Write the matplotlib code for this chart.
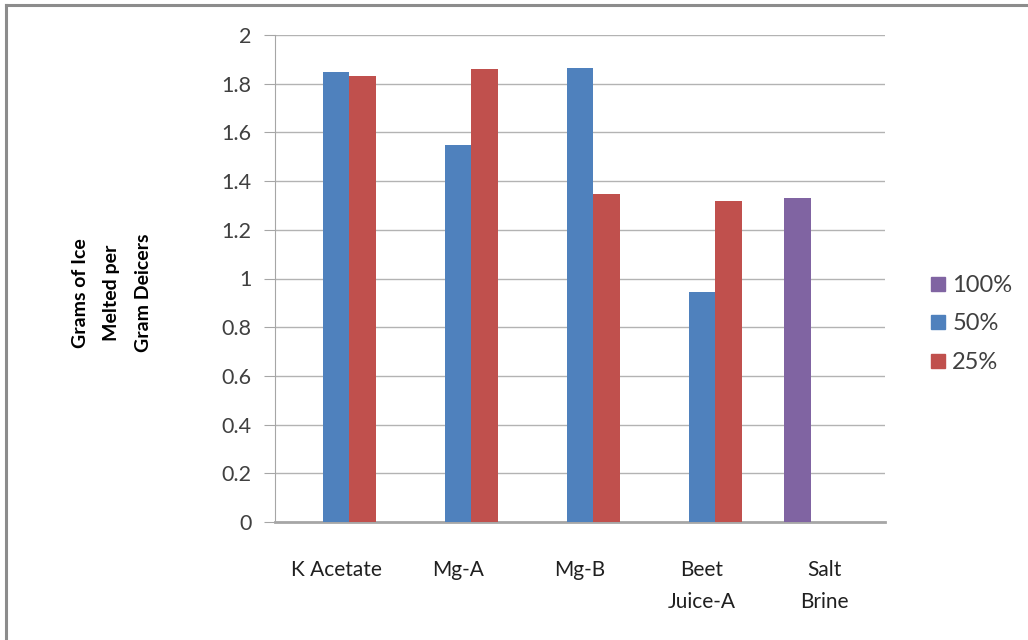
import numpy as np
import matplotlib
matplotlib.use('Agg')
import matplotlib.pyplot as plt
from matplotlib.lines import Line2D

# 数据
categories = ['K Acetate', 'Mg-A', 'Mg-B', 'Beet\nJuice-A', 'Salt\nBrine']
series_names = ['100%', '50%', '25%']
vals_100 = [np.nan, np.nan, np.nan, np.nan, 1.33]
vals_50 = [1.85, 1.55, 1.865, 0.945, np.nan]
vals_25 = [1.83, 1.86, 1.345, 1.32, np.nan]
colors = ['#8064A2', '#4F81BD', '#C0504D']

plt.rcParams['font.family'] = ['Lato', 'DejaVu Sans']

fig = plt.figure(figsize=(10.28, 6.4), dpi=100)
ax = fig.add_axes([275 / 1028, 1 - 522 / 640, 610 / 1028, 487 / 640])

x = np.arange(len(categories))
w = 0.221
for i, (name, vals) in enumerate(zip(series_names, [vals_100, vals_50, vals_25])):
    ax.bar(x + (i - 1) * w, vals, width=w, color=colors[i], label=name, zorder=3)

ax.set_xlim(-0.5, len(categories) - 0.5)
ax.set_ylim(0, 2)
ax.set_yticks(np.arange(0, 2.01, 0.2))
ax.set_yticklabels(['0', '0.2', '0.4', '0.6', '0.8', '1', '1.2', '1.4', '1.6', '1.8', '2'])
ax.set_xticks(x)
ax.set_xticklabels(categories, linespacing=1.75)

# 网格和坐标轴
ax.grid(axis='y', color='#B3B3B3', linewidth=1.0, zorder=0)
for s in ['top', 'right']:
    ax.spines[s].set_visible(False)
ax.spines['left'].set_color('#A6A6A6')
ax.spines['bottom'].set_color('#A6A6A6')
ax.spines['bottom'].set_linewidth(2)
ax.tick_params(axis='y', length=8, color='#A6A6A6', labelsize=15.5, labelcolor='#404040', pad=9)
ax.tick_params(axis='x', length=0, labelsize=15, labelcolor='#202020', pad=27)
for lab in ax.get_xticklabels():
    lab.set_verticalalignment('top')

# y轴标题
fig.text(112 / 1028, 1 - 293 / 640, 'Grams of Ice\nMelted per\nGram Deicers',
         rotation=90, ha='center', va='center', fontsize=14, fontweight='bold',
         linespacing=2.05, multialignment='center')

# 图例
handles = [Line2D([], [], marker='s', linestyle='', markersize=10,
                  markerfacecolor=c, markeredgecolor=c) for c in colors]
fig.legend(handles, series_names, loc='center left', bbox_to_anchor=(905 / 1028, 1 - 324 / 640),
           frameon=False, fontsize=17, handletextpad=0.1, labelspacing=0.75,
           handlelength=1.0, labelcolor='#404040')

# 外框
fig.add_artist(Line2D([6 / 1028, 1.0], [1 - 5 / 640, 1 - 5 / 640], color='#8C8C8C', linewidth=2.2))
fig.add_artist(Line2D([6 / 1028, 6 / 1028], [0.0, 1 - 5 / 640], color='#8C8C8C', linewidth=2.2))

fig.savefig('out.png', dpi=100)
